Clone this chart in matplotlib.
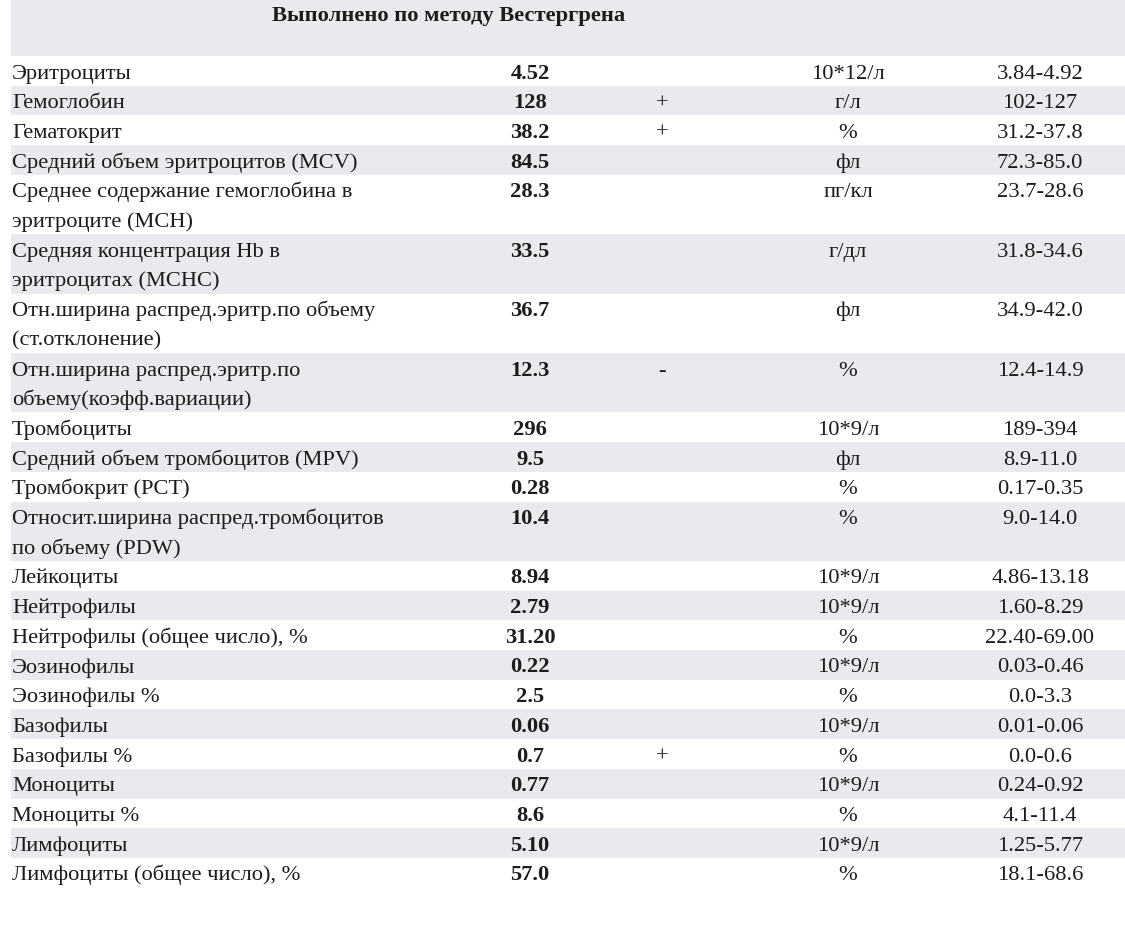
"""
Результаты общего анализа крови: таблица с чередующимися полосами строк.
"""
import matplotlib
matplotlib.use("Agg")
import matplotlib.pyplot as plt
import numpy as np

# ---- Данные таблицы ----
title = "Выполнено по методу Вестергрена"

names = [
    "Эритроциты",
    "Гемоглобин",
    "Гематокрит",
    "Средний объем эритроцитов (MCV)",
    "Среднее содержание гемоглобина в\nэритроците (MCH)",
    "Средняя концентрация Hb в\nэритроцитах (MCHC)",
    "Отн.ширина распред.эритр.по объему\n(ст.отклонение)",
    "Отн.ширина распред.эритр.по\nобъему(коэфф.вариации)",
    "Тромбоциты",
    "Средний объем тромбоцитов (MPV)",
    "Тромбокрит (PCT)",
    "Относит.ширина распред.тромбоцитов\nпо объему (PDW)",
    "Лейкоциты",
    "Нейтрофилы",
    "Нейтрофилы (общее число), %",
    "Эозинофилы",
    "Эозинофилы %",
    "Базофилы",
    "Базофилы %",
    "Моноциты",
    "Моноциты %",
    "Лимфоциты",
    "Лимфоциты (общее число), %",
]
values = ["4.52", "128", "38.2", "84.5", "28.3", "33.5", "36.7", "12.3", "296",
          "9.5", "0.28", "10.4", "8.94", "2.79", "31.20", "0.22", "2.5", "0.06",
          "0.7", "0.77", "8.6", "5.10", "57.0"]
flags = ["", "+", "+", "", "", "", "", "-", "", "", "", "", "", "", "", "", "",
         "", "+", "", "", "", ""]
units = ["10*12/л", "г/л", "%", "фл", "пг/кл", "г/дл", "фл", "%", "10*9/л", "фл",
         "%", "%", "10*9/л", "10*9/л", "%", "10*9/л", "%", "10*9/л", "%",
         "10*9/л", "%", "10*9/л", "%"]
refs = ["3.84-4.92", "102-127", "31.2-37.8", "72.3-85.0", "23.7-28.6",
        "31.8-34.6", "34.9-42.0", "12.4-14.9", "189-394", "8.9-11.0",
        "0.17-0.35", "9.0-14.0", "4.86-13.18", "1.60-8.29", "22.40-69.00",
        "0.03-0.46", "0.0-3.3", "0.01-0.06", "0.0-0.6", "0.24-0.92",
        "4.1-11.4", "1.25-5.77", "18.1-68.6"]

# ---- Оформление ----
W, H = 1125, 929
HEADER_H = 57
LINE_H = 29.7
STRIPE = "#e9e9ee"
INK = "#1c1c1c"
FS = 22.5 * 72 / 100  # ~22 px в пунктах
X_NAME, X_VAL, X_FLAG, X_UNIT, X_REF = 12, 530, 662, 848, 1040

plt.rcParams["font.family"] = ["Liberation Serif", "DejaVu Serif"]

fig = plt.figure(figsize=(W / 100, H / 100), dpi=100)
ax = fig.add_axes([0, 0, 1, 1])
ax.set_xlim(0, W)
ax.set_ylim(H, 0)
ax.set_axis_off()

# заголовок
ax.barh(HEADER_H / 2, W - 11, height=HEADER_H, left=11, color=STRIPE, lw=0)
ax.text(449, 21, title, ha="center", va="baseline", fontsize=FS,
        fontweight="bold", color=INK)

# строки
n_lines = np.array([len(n.split("\n")) for n in names])
tops = HEADER_H + np.concatenate([[0], np.cumsum(n_lines)[:-1]]) * LINE_H
heights = n_lines * LINE_H

for i, name in enumerate(names):
    top, h = tops[i], heights[i]
    if i % 2 == 1:
        ax.barh(top + h / 2, W - 11, height=h, left=11, color=STRIPE, lw=0)
    base = top + 21.5
    for k, line in enumerate(name.split("\n")):
        ax.text(X_NAME, base + k * LINE_H, line, ha="left", va="baseline",
                fontsize=FS, color=INK)
    ax.text(X_VAL, base, values[i], ha="center", va="baseline", fontsize=FS,
            fontweight="bold", color=INK)
    if flags[i]:
        ax.text(X_FLAG, base, flags[i], ha="center", va="baseline", fontsize=FS,
                fontweight="bold" if flags[i] == "-" else "normal", color=INK)
    ax.text(X_UNIT, base, units[i], ha="center", va="baseline", fontsize=FS,
            color=INK)
    ax.text(X_REF, base, refs[i], ha="center", va="baseline", fontsize=FS,
            color=INK)

fig.savefig("out.png", dpi=100, facecolor="white")
plt.close(fig)
